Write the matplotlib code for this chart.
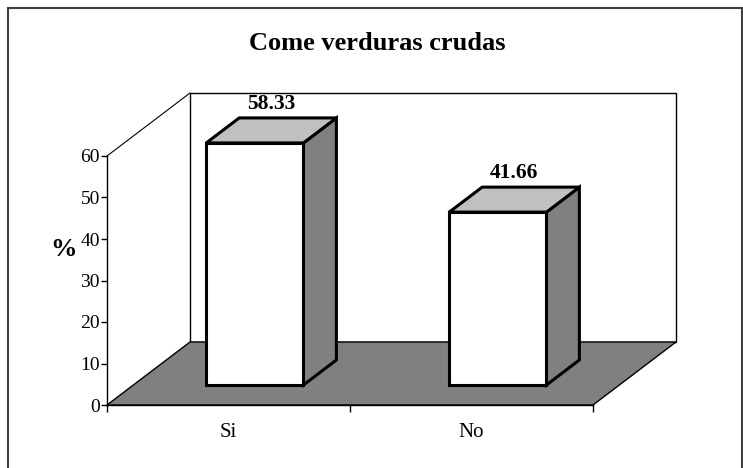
import matplotlib
matplotlib.use("Agg")
import matplotlib.pyplot as plt
from matplotlib.patches import Polygon, Rectangle

# ---- data ----
categories = ["Si", "No"]
values = [58.33, 41.66]
value_labels = ["58.33", "41.66"]
yticks = [0, 10, 20, 30, 40, 50, 60]
title = "Come verduras crudas"
ylabel = "%"

plt.rcParams['font.family'] = ['Liberation Serif', 'DejaVu Serif']

W, H = 743, 468
fig = plt.figure(figsize=(W / 100, H / 100), dpi=100)

# frame around the chart
fig.patches.append(Rectangle((8 / W, -0.02), (742 - 8) / W, 1.02 - 8 / H,
                             transform=fig.transFigure, fill=False,
                             edgecolor="#404040", linewidth=1.5))

# front plane of the 3D box in pixels: x 107..593, y 405 (0) .. 156 (60)
ax = fig.add_axes([107 / W, (H - 405) / H, (593 - 107) / W, (405 - 156) / H])
n = len(categories)
ymax = 60
ax.set_xlim(0, n)
ax.set_ylim(0, ymax)
ax.patch.set_visible(False)
for s in ["top", "right"]:
    ax.spines[s].set_visible(False)
ax.spines["left"].set_linewidth(1.0)
ax.spines["bottom"].set_linewidth(1.0)

# depth offsets in data units
px_per_x = (593 - 107) / n
px_per_y = (405 - 156) / ymax
dx = 83 / px_per_x
dy = 63 / px_per_y

# floor
floor = Polygon([(0, 0), (n, 0), (n + dx, dy), (dx, dy)], closed=True,
                facecolor="#808080", edgecolor="black", linewidth=1.0,
                clip_on=False, zorder=1)
ax.add_patch(floor)
# left wall
lw = Polygon([(0, 0), (0, ymax), (dx, ymax + dy), (dx, dy)], closed=True,
             facecolor="white", edgecolor="none", clip_on=False, zorder=0)
ax.add_patch(lw)
# back wall
bw = Polygon([(dx, dy), (dx, ymax + dy), (n + dx, ymax + dy), (n + dx, dy)],
             closed=True, facecolor="white", edgecolor="black", linewidth=1.0,
             clip_on=False, zorder=0.5)
ax.add_patch(bw)
ax.plot([0, dx], [ymax, ymax + dy], color="black", linewidth=0.8,
        clip_on=False, zorder=0.6)

# bars
w = 0.4
f1, f2 = 20 / 63, 45 / 63
for i, v in enumerate(values):
    c = i + 0.5
    x0 = c - w / 2 + f1 * dx
    x1 = c + w / 2 + f1 * dx
    y0 = f1 * dy
    ddx = (f2 - f1) * dx
    ddy = (f2 - f1) * dy
    kw = dict(closed=True, edgecolor="black", linewidth=2.2, clip_on=False,
              joinstyle="miter", zorder=3)
    front = Polygon([(x0, y0), (x1, y0), (x1, y0 + v), (x0, y0 + v)],
                    facecolor="white", **kw)
    top = Polygon([(x0, y0 + v), (x1, y0 + v), (x1 + ddx, y0 + v + ddy),
                   (x0 + ddx, y0 + v + ddy)], facecolor="#C0C0C0", **kw)
    side = Polygon([(x1, y0), (x1 + ddx, y0 + ddy), (x1 + ddx, y0 + v + ddy),
                    (x1, y0 + v)], facecolor="#808080", **kw)
    for p in (side, top, front):
        ax.add_patch(p)
    ax.annotate(value_labels[i], xy=((x0 + x1) / 2 + ddx / 2, y0 + v + ddy),
                xytext=(0, 3), textcoords="offset points",
                ha="center", va="bottom", fontsize=15.5, fontweight="bold",
                zorder=4, annotation_clip=False)

# ticks
ax.set_yticks(yticks)
ax.set_yticklabels([str(t) for t in yticks], fontsize=14)
ax.tick_params(axis="y", direction="out", length=4, width=1.0, pad=1)
ax.set_xticks(range(n + 1))
ax.set_xticklabels([""] * (n + 1))
ax.tick_params(axis="x", direction="out", length=5, width=1.0)
ax.set_xticks([i + 0.5 for i in range(n)], minor=True)
ax.set_xticklabels(categories, minor=True, fontsize=15)
ax.tick_params(axis="x", which="minor", length=0, pad=13)

fig.text(63 / W, 1 - 249 / H, ylabel, fontsize=19, fontweight="bold",
         ha="center", va="center")
fig.text(377 / W, 1 - 43 / H, title, fontsize=19, fontweight="bold",
         ha="center", va="center")

fig.savefig("out.png", dpi=100)
